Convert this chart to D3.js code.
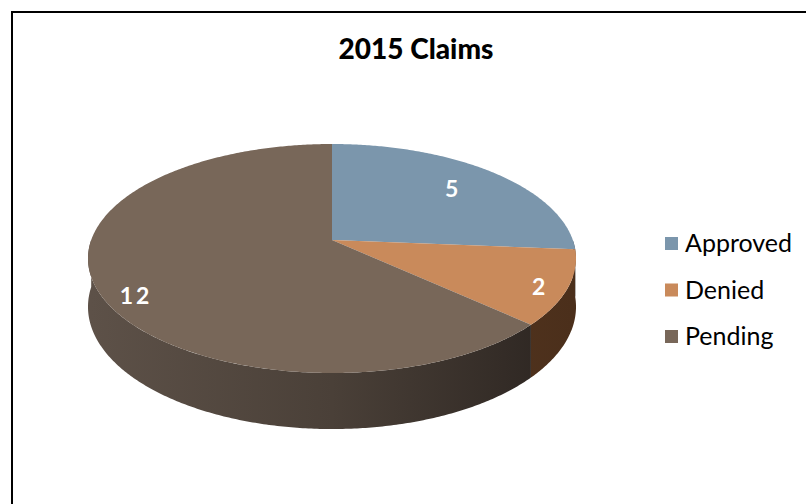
<!DOCTYPE html>
<html>
<head>
<meta charset="utf-8">
<script src="https://cdn.jsdelivr.net/npm/d3@7/dist/d3.min.js"></script>
<style>
  body { margin: 0; background: #fff; }
  svg { display: block; font-family: Lato, "Open Sans", sans-serif; }
</style>
</head>
<body>
<div id="chart"></div>
<script>
// data
const categories = ["Approved", "Denied", "Pending"];
const values = [5, 2, 12];
const colors = ["#7b96ac", "#c98a5b", "#786759"];
const title = "2015 Claims";

const width = 806, height = 504;

// 3D pie geometry (perspective projection of a flat disc)
const cx = 332, cy = 240;    // projected centre of the top face
const A = 111.5, B = 240.8;  // vertical / horizontal radius factors
const K = -0.1616;           // perspective strength
const D = 47;                // thickness

function proj(theta, r) {
  const u = r * Math.sin(theta), v = -r * Math.cos(theta);
  const s = 1 / (1 + K * v);
  return [cx + B * u * s, cy + A * v * s];
}
function projBottom(theta) {
  const v = -Math.cos(theta);
  const p = proj(theta, 1);
  return [p[0], p[1] + D / (1 + K * v)];
}
function arcPts(a0, a1, f) {
  const n = Math.max(2, Math.ceil((a1 - a0) / 0.01));
  return d3.range(n + 1).map(i => f(a0 + (a1 - a0) * i / n));
}

const svg = d3.select("#chart").append("svg")
  .attr("width", width)
  .attr("height", height);

const color = d3.scaleOrdinal().domain(categories).range(colors);

const pie = d3.pie().sort(null).value(d => d.value);
const arcs = pie(categories.map((c, i) => ({ name: c, value: values[i] })));

// side gradients
const defs = svg.append("defs");
const sideStops = {
  Approved: ["#566a7a", "#3d4b57"],
  Denied: ["#6a4529", "#4b2f1b"],
  Pending: ["#5d5148", "#4a4038", "#2b2420"]
};
categories.forEach(c => {
  const g = defs.append("linearGradient")
    .attr("id", "side-" + c)
    .attr("gradientUnits", "userSpaceOnUse")
    .attr("x1", cx - B).attr("x2", cx + B)
    .attr("y1", 0).attr("y2", 0);
  const st = sideStops[c];
  st.forEach((col, i) => {
    g.append("stop").attr("offset", i / (st.length - 1)).attr("stop-color", col);
  });
});

const line = d3.line();

// sides (front half only)
svg.append("g").selectAll("path")
  .data(arcs.filter(d => d.endAngle > Math.PI / 2 && d.startAngle < 3 * Math.PI / 2))
  .join("path")
  .attr("d", d => {
    const a0 = Math.max(d.startAngle, Math.PI / 2);
    const a1 = Math.min(d.endAngle, 3 * Math.PI / 2);
    const top = arcPts(a0, a1, t => proj(t, 1));
    const bot = arcPts(a0, a1, projBottom).reverse();
    return line(top.concat(bot)) + "Z";
  })
  .attr("fill", d => `url(#side-${d.data.name})`);

// top faces
svg.append("g").selectAll("path")
  .data(arcs)
  .join("path")
  .attr("d", d => line([[cx, cy]].concat(arcPts(d.startAngle, d.endAngle, t => proj(t, 1)))) + "Z")
  .attr("fill", d => color(d.data.name));

// value labels (radius along slice and small drop for front slices)
const labelR = [0.74, 0.89, 0.84];
const labelDy = [0, 4, 15];
svg.append("g").selectAll("text")
  .data(arcs)
  .join("text")
  .attr("x", (d, i) => proj((d.startAngle + d.endAngle) / 2, labelR[i])[0])
  .attr("y", (d, i) => proj((d.startAngle + d.endAngle) / 2, labelR[i])[1] + labelDy[i])
  .attr("text-anchor", "middle")
  .attr("dominant-baseline", "central")
  .attr("fill", "#fff")
  .attr("font-weight", "bold")
  .attr("font-size", 23)
  .attr("letter-spacing", 3)
  .text(d => d.data.value);

// title
svg.append("text")
  .attr("x", 416)
  .attr("y", 59)
  .attr("text-anchor", "middle")
  .attr("font-weight", 900)
  .attr("font-size", 28)
  .attr("fill", "#000")
  .text(title);

// legend
const legend = svg.append("g")
  .attr("transform", "translate(665,237)");
const rows = legend.selectAll("g")
  .data(categories)
  .join("g")
  .attr("transform", (d, i) => `translate(0,${i * 46.5})`);
rows.append("rect")
  .attr("width", 13)
  .attr("height", 13)
  .attr("fill", d => color(d));
rows.append("text")
  .attr("x", 20)
  .attr("y", 15)
  .attr("font-size", 25)
  .attr("fill", "#000")
  .text(d => d);

// frame (top and left edges visible)
svg.append("path")
  .attr("d", `M12,${height} V12 H${width}`)
  .attr("fill", "none")
  .attr("stroke", "#000")
  .attr("stroke-width", 2);
</script>
</body>
</html>
